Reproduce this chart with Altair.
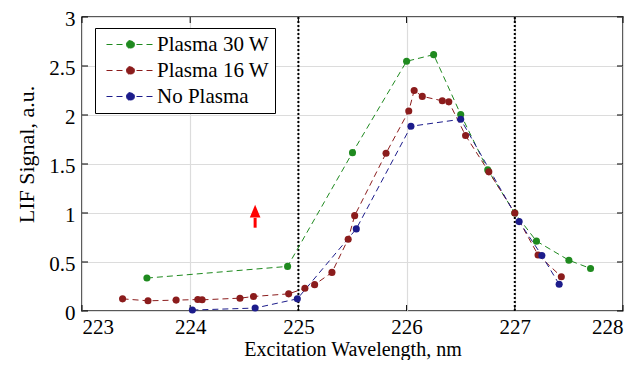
import altair as alt
import pandas as pd

# ---- data ----
series_names = ["Plasma 30 W", "Plasma 16 W", "No Plasma"]
series_colors = ["#1f8a1f", "#8b1c1c", "#1c1c8b"]

green_x = [223.60, 224.90, 225.50, 226.00, 226.25, 226.50, 226.75, 227.00, 227.20, 227.50, 227.70]
green_y = [0.336, 0.455, 1.616, 2.548, 2.616, 2.006, 1.44, 1.00, 0.713, 0.518, 0.434]

red_x = [223.375, 223.61, 223.87, 224.07, 224.11, 224.46, 224.585, 224.91, 225.06, 225.15,
         225.31, 225.46, 225.52, 225.81, 226.02, 226.07, 226.145, 226.33, 226.39, 226.545,
         226.76, 227.00, 227.215, 227.43]
red_y = [0.124, 0.104, 0.111, 0.117, 0.114, 0.131, 0.148, 0.175, 0.232, 0.269,
         0.394, 0.733, 0.973, 1.61, 2.04, 2.25, 2.19, 2.145, 2.134, 1.79,
         1.42, 1.00, 0.572, 0.35]

blue_x = [224.02, 224.60, 224.99, 225.535, 226.04, 226.50, 227.04, 227.25, 227.41]
blue_y = [0.01, 0.03, 0.124, 0.838, 1.885, 1.956, 0.912, 0.566, 0.273]

vlines_x = [225, 227]
x_ticks = [223, 224, 225, 226, 227, 228]
y_ticks = [0, 0.5, 1, 1.5, 2, 2.5, 3]

arrow_x = [224.6]
arrow_y0 = [0.85]
arrow_y1 = [0.95]
arrow_head_y = [0.965]

W, H = 541, 294
FONT = "Liberation Serif"

rows = []
for name, xs, ys in [(series_names[0], green_x, green_y),
                     (series_names[1], red_x, red_y),
                     (series_names[2], blue_x, blue_y)]:
    for xv, yv in zip(xs, ys):
        rows.append({"series": name, "x": xv, "y": yv})
df = pd.DataFrame(rows)

xscale = alt.Scale(domain=[223, 228], nice=False, zero=False)
yscale = alt.Scale(domain=[0, 3], nice=False, zero=False)
color_scale = alt.Scale(domain=series_names, range=series_colors)

legend_path = "M-1,0L8.6,0M3.0,0A0.8,0.8,0,1,1,4.6,0A0.8,0.8,0,1,1,3.0,0Z"
legend = alt.Legend(
    title=None, orient="none", legendX=13, legendY=11,
    symbolType=legend_path, symbolSize=100, symbolStrokeWidth=1,
    symbolDash=[6, 4], labelOffset=35,
    labelFont=FONT, labelFontSize=21, labelColor="black",
    strokeColor="black", fillColor="white", padding=6, rowPadding=4,
    labelLimit=300,
)

x_axis = alt.Axis(values=x_ticks, format="d", title="Excitation Wavelength, nm",
                  grid=True, gridColor="#dcdcdc", gridWidth=1.2, domain=False,
                  ticks=False, labelPadding=5,
                  titleY=44.7, titleBaseline="alphabetic",
                  labelFont=FONT, labelFontSize=21, labelColor="black",
                  titleFont=FONT, titleFontSize=20, titleFontWeight="normal", titleColor="black")
y_axis = alt.Axis(values=y_ticks, format="~g", title="LIF Signal, a.u.",
                  grid=True, gridColor="#dcdcdc", gridWidth=1.2, domain=False,
                  ticks=False, labelPadding=7, titlePadding=10, labelOffset=2.5,
                  titleY=137,
                  labelFont=FONT, labelFontSize=21, labelColor="black",
                  titleFont=FONT, titleFontSize=22, titleFontWeight="normal", titleColor="black")

X = alt.X("x:Q", scale=xscale, axis=x_axis)
Y = alt.Y("y:Q", scale=yscale, axis=y_axis)

base = alt.Chart(df)
lines = base.mark_line(strokeWidth=1, strokeDash=[6, 4]).encode(
    x=X, y=Y,
    color=alt.Color("series:N", scale=color_scale, legend=legend),
    detail="series:N",
)
points = base.mark_circle(size=50, opacity=1).encode(
    x=X, y=Y,
    color=alt.Color("series:N", scale=color_scale, legend=legend),
)

vdf = pd.DataFrame({"x": vlines_x, "y": [0, 0], "y1": [3, 3]})
vl = alt.Chart(vdf).mark_rule(
    color="black", strokeWidth=2, strokeDash=[2, 2]
).encode(x=X, y=Y, y2="y1:Q")

adf = pd.DataFrame({"x": arrow_x, "y": arrow_y0, "y1": arrow_y1, "yh": arrow_head_y})
shaft = alt.Chart(adf).mark_rule(color="red", strokeWidth=3).encode(
    x=X, y=Y, y2="y1:Q")
head = alt.Chart(adf).mark_point(
    shape="M0,-1L0.45,0.1L-0.45,0.1Z", size=557, filled=True, color="red", opacity=1
).encode(x=X, y=alt.Y("yh:Q", scale=yscale, axis=y_axis))

xt = pd.DataFrame({"x": x_ticks})
yt = pd.DataFrame({"y": y_ticks})
TL = 6
tick_style = dict(color="black", strokeWidth=1)
xb = alt.Chart(xt).mark_rule(**tick_style).encode(
    x=X, y=alt.value(H), y2=alt.value(H - TL))
xtp = alt.Chart(xt).mark_rule(**tick_style).encode(
    x=X, y=alt.value(0), y2=alt.value(TL))
yl = alt.Chart(yt).mark_rule(**tick_style).encode(
    y=Y, x=alt.value(0), x2=alt.value(TL))
yr = alt.Chart(yt).mark_rule(**tick_style).encode(
    y=Y, x=alt.value(W), x2=alt.value(W - TL))

chart = alt.layer(vl, xb, xtp, yl, yr, lines, points, shaft, head).properties(
    width=W, height=H,
    background="white",
    autosize=alt.AutoSizeParams(type="none"),
    padding={"left": 74, "top": 9, "right": 7, "bottom": 49},
).configure_view(
    stroke="#222222", strokeWidth=1.6
)

chart.save("out.html", embed_options={"renderer": "svg", "actions": False})
